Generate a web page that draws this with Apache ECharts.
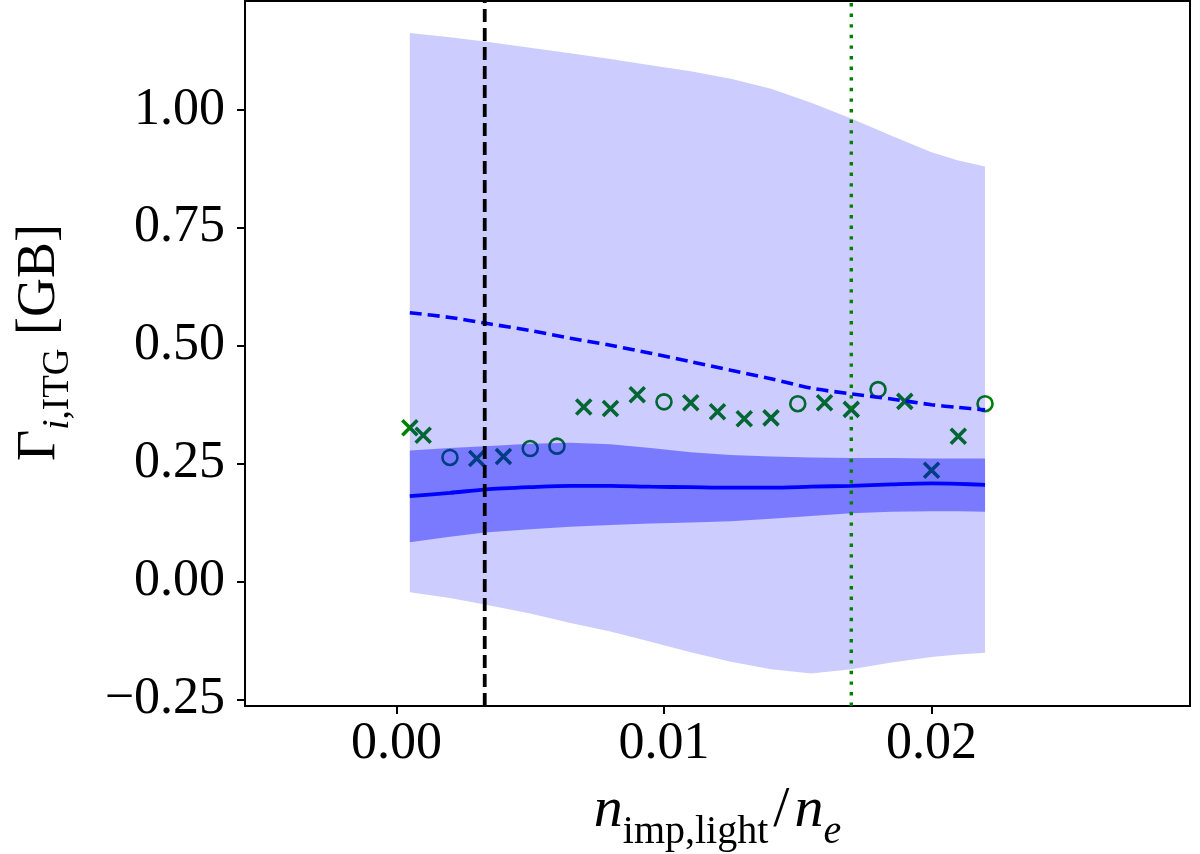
<!DOCTYPE html>
<html>
<head>
<meta charset="utf-8">
<script src="https://cdn.jsdelivr.net/npm/echarts@6/dist/echarts.min.js"></script>
<style>
html,body{margin:0;padding:0;background:#fff;}
#chart{width:1200px;height:854px;}
</style>
</head>
<body>
<div id="chart"></div>
<script>
// ---- data ----
const xs          = [0.0005, 0.002, 0.0033, 0.005, 0.0065, 0.008, 0.0095, 0.011, 0.0125, 0.014, 0.0155, 0.017, 0.0185, 0.020, 0.021, 0.022];
const outerUpper  = [1.163, 1.154, 1.145, 1.132, 1.120, 1.108, 1.095, 1.082, 1.066, 1.045, 1.015, 0.982, 0.945, 0.910, 0.893, 0.880];
const outerLower  = [-0.023, -0.035, -0.049, -0.068, -0.088, -0.106, -0.128, -0.150, -0.170, -0.186, -0.195, -0.186, -0.172, -0.160, -0.155, -0.151];
const innerUpper  = [0.278, 0.283, 0.287, 0.292, 0.294, 0.291, 0.283, 0.274, 0.268, 0.265, 0.263, 0.262, 0.262, 0.261, 0.261, 0.261];
const innerLower  = [0.083, 0.095, 0.104, 0.111, 0.116, 0.120, 0.123, 0.125, 0.128, 0.133, 0.139, 0.145, 0.148, 0.149, 0.149, 0.148];
const meanLine    = [0.181, 0.188, 0.195, 0.200, 0.203, 0.203, 0.201, 0.200, 0.199, 0.199, 0.201, 0.203, 0.206, 0.208, 0.207, 0.205];
const dashedLine  = [0.570, 0.560, 0.548, 0.532, 0.516, 0.501, 0.484, 0.466, 0.448, 0.430, 0.410, 0.398, 0.387, 0.375, 0.369, 0.364];

const crossX = [0.0005, 0.001, 0.003, 0.004, 0.007, 0.008, 0.009, 0.011, 0.012, 0.013, 0.014, 0.016, 0.017, 0.019, 0.020, 0.021];
const crossY = [0.326, 0.310, 0.261, 0.265, 0.370, 0.367, 0.396, 0.379, 0.360, 0.345, 0.347, 0.379, 0.365, 0.382, 0.236, 0.308];
const circX  = [0.002, 0.005, 0.006, 0.010, 0.015, 0.018, 0.022];
const circY  = [0.263, 0.282, 0.287, 0.381, 0.377, 0.407, 0.377];

const vlineBlack = 0.0033;
const vlineGreen = 0.017;

const xTicks = [0.00, 0.01, 0.02];
const yTicks = [-0.25, 0.00, 0.25, 0.50, 0.75, 1.00];
const xMin = -0.00566, xMax = 0.02966;
const yMin = -0.264, yMax = 1.231;

// ---- build ----
const pairs = (a, b) => a.map((v, i) => [v, b[i]]);
const FONT = '"Liberation Serif", "DejaVu Serif", serif';

const chart = echarts.init(document.getElementById('chart'), null, {renderer: 'canvas'});

function band(name, lower, upper, color) {
  return {
    type: 'custom', name, silent: true, z: 3, clip: true,
    data: xs.map((x, i) => [x, lower[i], upper[i]]),
    encode: {x: 0, y: [1, 2]},
    renderItem: function (params, api) {
      if (params.dataIndex !== 0) return null;
      const pts = [];
      for (let i = 0; i < xs.length; i++) pts.push(api.coord([xs[i], upper[i]]));
      for (let i = xs.length - 1; i >= 0; i--) pts.push(api.coord([xs[i], lower[i]]));
      return {type: 'polygon', shape: {points: pts}, style: {fill: color, stroke: null}};
    }
  };
}

function vline(name, xv, style) {
  return {
    type: 'line', name, data: [[xv, yMin], [xv, yMax]], showSymbol: false, symbol: 'none',
    silent: true, z: 5, lineStyle: style
  };
}

const option = {
  animation: false,
  backgroundColor: '#fff',
  grid: {left: 245, right: 10, top: 1, bottom: 148, containLabel: false, outerBoundsMode: 'none',
         show: true, borderColor: '#000', borderWidth: 2, backgroundColor: 'transparent'},
  xAxis: {
    type: 'value', min: xMin, max: xMax,
    axisLine: {show: true, onZero: false, lineStyle: {color: '#000', width: 2}},
    axisTick: {show: true, inside: false, length: 8, lineStyle: {color: '#000', width: 2}, customValues: xTicks},
    axisLabel: {customValues: xTicks, formatter: v => v.toFixed(2), fontFamily: FONT, fontSize: 52, color: '#000', margin: 12, lineHeight: 52},
    splitLine: {show: false},
    name: '{n|n}{sub|imp,light}{sl|/}{n|n}{subi|e}',
    nameLocation: 'middle', nameGap: 70,
    nameTextStyle: {
      fontFamily: FONT, color: '#000',
      rich: {
        n: {fontFamily: FONT, fontStyle: 'italic', fontSize: 58, color: '#000', lineHeight: 64, verticalAlign: 'bottom'},
        sub: {fontFamily: FONT, fontSize: 40, color: '#000', lineHeight: 64, verticalAlign: 'bottom', padding: [0, 0, -12, 0]},
        subi: {fontFamily: FONT, fontStyle: 'italic', fontSize: 40, color: '#000', lineHeight: 64, verticalAlign: 'bottom', padding: [0, 0, -12, 0]},
        sl: {fontFamily: FONT, fontSize: 58, color: '#000', lineHeight: 64, verticalAlign: 'bottom', padding: [0, 5, 0, 5]}
      }
    }
  },
  yAxis: {
    type: 'value', min: yMin, max: yMax,
    axisLine: {show: true, onZero: false, lineStyle: {color: '#000', width: 2}},
    axisTick: {show: true, inside: false, length: 8, lineStyle: {color: '#000', width: 2}, customValues: yTicks},
    axisLabel: {customValues: yTicks, formatter: v => (v < 0 ? '\u2212' : '') + Math.abs(v).toFixed(2), fontFamily: FONT, fontSize: 52, color: '#000', margin: 20},
    splitLine: {show: false},
    name: '{g|\u0393}{subi|i}{sub|,ITG}{g| [GB]}',
    nameLocation: 'middle', nameGap: 178, nameRotate: 90,
    nameTextStyle: {
      fontFamily: FONT, color: '#000', padding: [0, 0, 0, 22],
      rich: {
        g: {fontFamily: FONT, fontSize: 54, color: '#000', lineHeight: 60, verticalAlign: 'bottom'},
        sub: {fontFamily: FONT, fontSize: 37, color: '#000', lineHeight: 60, verticalAlign: 'bottom', padding: [0, 0, -10, 0]},
        subi: {fontFamily: FONT, fontStyle: 'italic', fontSize: 37, color: '#000', lineHeight: 60, verticalAlign: 'bottom', padding: [0, 0, -10, 0]}
      }
    }
  },
  series: [
    {
      type: 'scatter', name: 'crosses', data: pairs(crossX, crossY),
      symbol: 'path://M0 0L10 10M10 0L0 10', symbolSize: 15, silent: true,
      itemStyle: {color: 'rgba(0,0,0,0)', borderColor: '#008000', borderWidth: 3.6, opacity: 1}, z: 2
    },
    {
      type: 'scatter', name: 'circles', data: pairs(circX, circY),
      symbol: 'circle', symbolSize: 15, silent: true,
      itemStyle: {color: 'rgba(0,0,0,0)', borderColor: '#008000', borderWidth: 2.6, opacity: 1}, z: 2
    },
    band('outerBand', outerLower, outerUpper, 'rgba(0,0,255,0.2)'),
    band('innerBand', innerLower, innerUpper, 'rgba(0,0,255,0.4)'),
    {
      type: 'line', name: 'mean', data: pairs(xs, meanLine), showSymbol: false, symbol: 'none', smooth: 0.3, silent: true,
      lineStyle: {color: '#0000ff', width: 3.8}, z: 4
    },
    {
      type: 'line', name: 'dashed', data: pairs(xs, dashedLine), showSymbol: false, symbol: 'none', smooth: 0.3, silent: true,
      lineStyle: {color: '#0000ff', width: 3.6, type: [12, 6]}, z: 4
    },
    vline('vBlack', vlineBlack, {color: '#000', width: 3.8, type: [13, 6]}),
    vline('vGreen', vlineGreen, {color: '#008000', width: 3.4, type: [3.4, 7.2]})
  ]
};
chart.setOption(option);
</script>
</body>
</html>
